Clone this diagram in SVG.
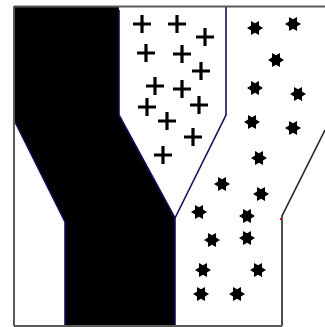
<svg xmlns="http://www.w3.org/2000/svg" width="325" height="327" viewBox="0 0 325 327">
  <defs>
    <style>
      .frame{stroke:#5a5a5a;stroke-width:2;fill:none}
      .edge{stroke:#10105a;stroke-width:1.6;fill:none}
      .rline{stroke:#222;stroke-width:1.6;fill:none}
    </style>
    <g id="plus">
      <path d="M-9,0H9M0,-9V9" stroke="#000" stroke-width="3.2" fill="none"/>
    </g>
    <polygon id="star" fill="#000" points="8,0 4,2.4 4,6.9 0,4.7 -4,6.9 -4,2.4 -8,0 -4,-2.4 -4,-6.9 0,-4.7 4,-6.9 4,-2.4"/>
  </defs>
  <rect x="0" y="0" width="325" height="327" fill="#fff"/>
  <g id="black-band">
    <polygon points="14,6 119,6 119,115 175,218 175,326 65,326 65,222 14,120" fill="#000"/>
    <polyline class="edge" points="119,10 119,115 175,218 175,326"/>
    <polyline class="edge" points="14,120 65,222 65,326"/>
  </g>
  <g id="divider-lines">
    <polyline class="edge" points="226,6 226,115 175,218"/>
    <polyline class="rline" points="325,130 282,216 282,326"/>
    <rect x="280" y="218" width="2" height="2" fill="#e00"/>
  </g>
  <g id="frame">
    <line class="frame" x1="14" y1="6.5" x2="325" y2="6.5"/>
    <line class="frame" x1="14" y1="6" x2="14" y2="326"/>
    <line class="frame" x1="14" y1="326" x2="282" y2="326"/>
  </g>
  <g id="plus-region">
    <use href="#plus" x="142" y="24"/>
    <use href="#plus" x="177" y="24"/>
    <use href="#plus" x="205" y="37"/>
    <use href="#plus" x="146" y="53"/>
    <use href="#plus" x="182" y="54"/>
    <use href="#plus" x="201" y="71"/>
    <use href="#plus" x="155" y="86"/>
    <use href="#plus" x="182" y="89"/>
    <use href="#plus" x="147" y="107"/>
    <use href="#plus" x="199" y="105"/>
    <use href="#plus" x="167" y="121"/>
    <use href="#plus" x="193" y="137"/>
    <use href="#plus" x="163" y="155"/>
  </g>
  <g id="star-region">
    <use href="#star" x="255" y="28"/>
    <use href="#star" x="293" y="24"/>
    <use href="#star" x="276" y="60"/>
    <use href="#star" x="255" y="88"/>
    <use href="#star" x="298" y="94"/>
    <use href="#star" x="252" y="122"/>
    <use href="#star" x="293" y="128"/>
    <use href="#star" x="259" y="158"/>
    <use href="#star" x="222" y="184"/>
    <use href="#star" x="261" y="194"/>
    <use href="#star" x="199" y="212"/>
    <use href="#star" x="247" y="216"/>
    <use href="#star" x="212" y="240"/>
    <use href="#star" x="247" y="238"/>
    <use href="#star" x="203" y="270"/>
    <use href="#star" x="258" y="270"/>
    <use href="#star" x="201" y="294"/>
    <use href="#star" x="237" y="294"/>
  </g>
</svg>
